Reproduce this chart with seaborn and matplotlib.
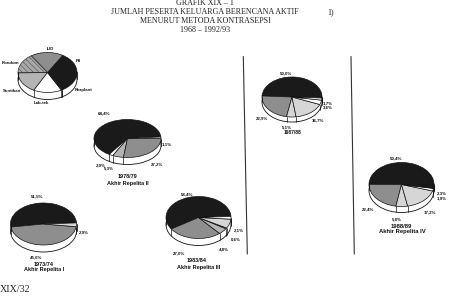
import numpy as np
import matplotlib
matplotlib.use("Agg")
import matplotlib.pyplot as plt
import seaborn as sns

# Contraceptive method shares (percent), counter-clockwise from the first wedge
legend_names = ["Pil", "IUD", "Kondom", "Suntikan", "Lab-tek", "Norplant"]
legend_share = [33.0, 18.0, 16.0, 17.0, 15.5, 0.5]

shares_1973 = [51.5, 45.6, 2.9]
shares_1978 = [64.4, 2.0, 5.3, 27.2, 1.1]
shares_1983 = [58.4, 27.0, 4.8, 0.6, 7.1, 2.1]
shares_1987 = [50.0, 22.9, 5.1, 16.7, 3.6, 1.7]
shares_1988 = [50.4, 22.4, 5.8, 17.2, 1.9, 2.3]

title_lines = ["GRAFIK XIX – 1",
               "JUMLAH PESERTA KELUARGA BERENCANA AKTIF",
               "MENURUT METODA KONTRASEPSI",
               "1968 – 1992/93"]

W, H = 451, 304
sns.set_theme(style="white")
plt.rcParams["font.family"] = ["Liberation Sans", "DejaVu Sans"]
plt.rcParams["hatch.linewidth"] = 0.3

fig = plt.figure(figsize=(W / 100, H / 100), dpi=100, facecolor="white")

# Full-figure layer in pixel units for the captions and dividers
page = fig.add_axes([0, 0, 1, 1], zorder=5)
page.set_xlim(0, W)
page.set_ylim(H, 0)
page.axis("off")
page.patch.set_alpha(0)

BLACK = ("#1a1a1a", None)
GREY = ("#8e8e8e", None)
LIGHT = ("#d6d6d6", None)
MID = ("#b4b4b4", None)
WHITE = ("#ffffff", None)
SPECKLED = ("#a8a8a8", "\\\\\\\\\\\\")


def pie3d(values, styles, start, cx, cy, rx, ry, depth):
    """Flattened pie with a white rim below its front edge."""
    d = depth / ry
    ax = fig.add_axes([(cx - 1.1 * rx) / W,
                       1 - (cy + 1.1 * ry + depth) / H,
                       2.2 * rx / W,
                       (2.2 * ry + depth) / H])
    # rim: same disc shifted down, behind the top face
    ax.pie([1], colors=["white"], center=(0, -d), radius=1,
           wedgeprops=dict(edgecolor="#111111", linewidth=0.6))
    wedges, _ = ax.pie(values, colors=[s[0] for s in styles],
                       startangle=start, counterclock=True, normalize=True,
                       wedgeprops=dict(edgecolor="#111111", linewidth=0.5))
    for w, s in zip(wedges, styles):
        if s[1]:
            w.set_hatch(s[1])
            w.set_edgecolor("#333333")
    ax.set_aspect("auto")
    ax.set_xlim(-1.1, 1.1)
    ax.set_ylim(-1.1 - d, 1.1)
    ax.axis("off")
    ax.plot([-1, -1], [0, -d], color="#111111", lw=0.6)
    ax.plot([1, 1], [0, -d], color="#111111", lw=0.6)
    edges = start + np.cumsum([0] + list(values)) * 3.6 * 100 / sum(values)
    for e in edges:
        t = np.deg2rad(e)
        if np.sin(t) < 0:
            ax.plot([np.cos(t)] * 2, [np.sin(t), np.sin(t) - d],
                    color="#111111", lw=0.5)


def small(x, y, s, size=3.2):
    page.text(x, y, s, ha="center", va="center", fontsize=size,
              fontweight="bold", color="#111111")


def pct(v):
    return f"{v:.1f}%".replace(".", ",")


# Method key
pie3d(legend_share,
      [BLACK, GREY, SPECKLED, MID, WHITE, WHITE],
      -60, 47.5, 72.5, 29.5, 20, 7)
for (x, y), s in zip([(78, 61.5), (50, 49.5), (11, 62.5), (12, 91), (41, 103), (84, 90)],
                     legend_names):
    small(x, y, s)

# Akhir Repelita I
pie3d(shares_1973, [BLACK, GREY, LIGHT], 3, 43.5, 224, 33, 21, 7)
for (x, y), v in zip([(37, 196.5), (36, 257.5), (84, 232)], shares_1973):
    small(x, y, pct(v))
small(44, 264, "1973/74", 4)
small(44, 270, "Akhir Repelita I", 4)

# Akhir Repelita II
pie3d(shares_1978, [BLACK, WHITE, MID, GREY, WHITE], 5, 127.5, 138.5, 33.5, 19, 7)
for (x, y), v in zip([(104, 113), (101, 165), (109, 168.5), (157, 164), (167, 144)], shares_1978):
    small(x, y, pct(v))
small(128, 177, "1978/79", 4)
small(128, 183, "Akhir Repelita II", 4)

# Akhir Repelita III
pie3d(shares_1983, [BLACK, GREY, MID, WHITE, LIGHT, WHITE], 3, 198.5, 217.5, 32.5, 21, 7)
for (x, y), v, show in zip([(187, 194.5), (179, 253), (224, 249), (236, 239.5), (0, 0), (239, 230)],
                           shares_1983, [1, 1, 1, 1, 0, 1]):
    if show:
        small(x, y, pct(v))
small(197, 261, "1983/84", 4)
small(199, 267, "Akhir Repelita III", 4)

# 1987/88
pie3d(shares_1987, [BLACK, GREY, LIGHT, LIGHT, WHITE, WHITE], -3, 292, 97, 30, 20, 5)
for (x, y), v in zip([(286, 73), (261.5, 118), (286.5, 127), (318, 120.5), (328, 107), (328, 103)],
                     shares_1987):
    small(x, y, pct(v))
small(293, 133, "1987/88", 3.6)

# Akhir Repelita IV
pie3d(shares_1988, [BLACK, GREY, LIGHT, LIGHT, WHITE, BLACK], -2, 401.5, 184.5, 32.5, 22, 6)
for (x, y), v in zip([(396, 158), (368.5, 209), (397, 219), (430, 212.5), (442, 198), (442, 193)],
                     shares_1988):
    small(x, y, pct(v))
small(401, 226, "1988/89", 4.2)
small(402, 232, "Akhir Repelita IV", 4.2)

# Dividers between the plan periods
page.plot([243.3, 247.3], [56.5, 254], color="#333333", lw=0.8)
page.plot([351, 354.3], [56.5, 254], color="#333333", lw=0.8)

# Heading and page marks
for y, line in zip([3, 12, 21, 30], title_lines):
    page.text(205, y, line, ha="center", va="center", fontsize=5.8,
              family="Liberation Serif", color="#222222")
page.text(331, 12, "1)", ha="center", va="center", fontsize=5.8,
          family="Liberation Serif", color="#222222")
page.text(0, 290, "XIX/32", ha="left", va="center", fontsize=7.2,
          family="Liberation Serif", color="#222222")

fig.savefig("out.png", dpi=100)
